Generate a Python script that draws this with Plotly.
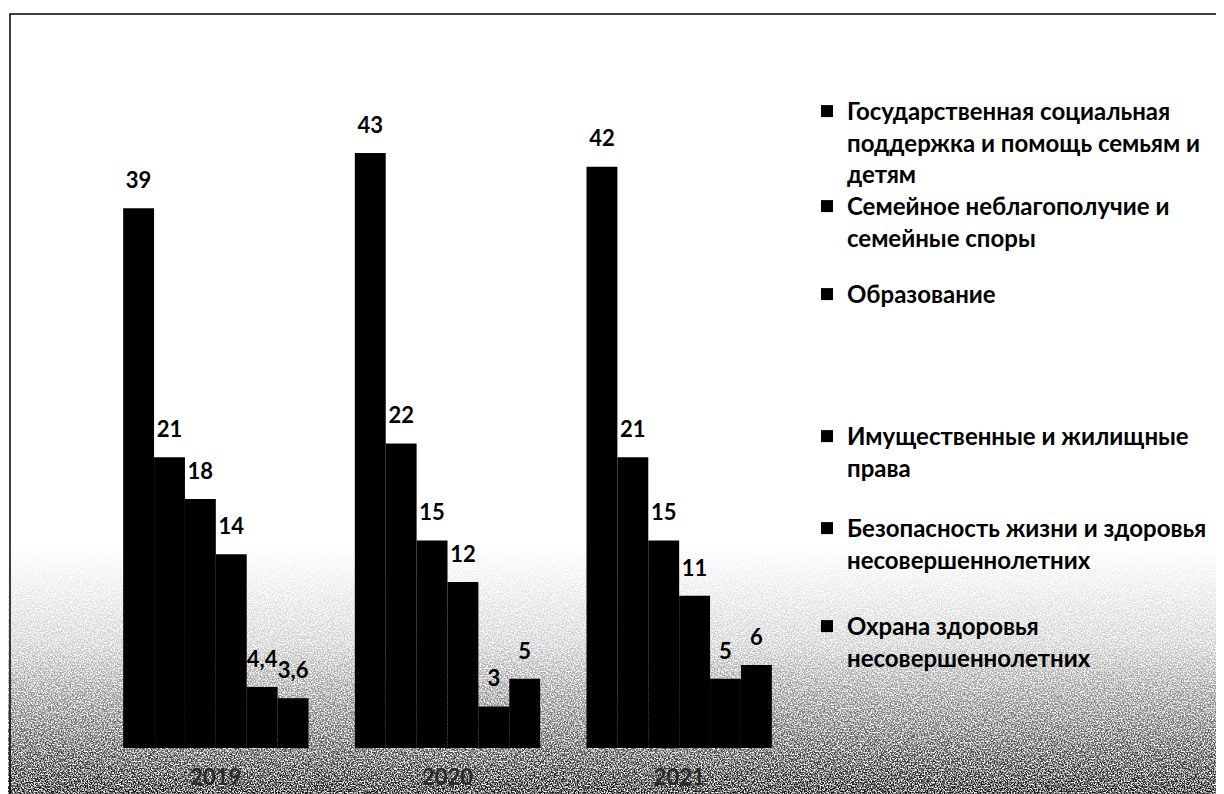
import base64
import plotly.graph_objects as go

years = ["2019", "2020", "2021"]
categories = [
    "Государственная социальная<br>поддержка и помощь семьям и<br>детям",
    "Семейное неблагополучие и<br>семейные споры",
    "Образование",
    "Имущественные и жилищные<br>права",
    "Безопасность жизни и здоровья<br>несовершеннолетних",
    "Охрана здоровья<br>несовершеннолетних",
]
# values per category, in year order
support = [39, 43, 42]
family = [21, 22, 21]
education = [18, 15, 15]
property_rights = [14, 12, 11]
safety = [4.4, 3, 5]
health = [3.6, 5, 6]
series = [support, family, education, property_rights, safety, health]

# page geometry (screen pixels; the page body adds an 8px offset)
W, H = 1224, 794
OFF = 8
ML, MR, MT, MB = 92, 437, 48, 54
PW, PH = W - ML - MR, H - MT - MB


def px_x(x):
    return (x - OFF - ML) / PW


def px_y(y):
    return (H - MB - (y - OFF)) / PH


FONT = "Lato"
GAP = 0.2

fig = go.Figure()
for i, (name, vals) in enumerate(zip(categories, series)):
    key = "legend" if i == 0 else f"legend{i + 1}"
    fig.add_trace(go.Bar(
        x=years, y=vals, name=name,
        marker=dict(color="#000000", line=dict(width=0)),
        offsetgroup=str(i), legend=key,
    ))

# value labels, grouped the same way as the bars
for i, vals in enumerate(series):
    fig.add_trace(go.Scatter(
        x=years, y=vals, mode="markers+text",
        text=vals, texttemplate="%{y}", textposition="top center",
        textfont=dict(family=FONT, size=22, color="#000000", weight="bold"),
        marker=dict(size=22, opacity=0),
        cliponaxis=False, showlegend=False, hoverinfo="skip",
        offsetgroup=str(i),
    ))

legend_tops = [89, 184, 272, 414, 506, 604]
legends = {}
for i, top in enumerate(legend_tops):
    key = "legend" if i == 0 else f"legend{i + 1}"
    legends[key] = dict(
        x=px_x(807), y=px_y(top), xanchor="left", yanchor="top",
        bgcolor="rgba(0,0,0,0)", valign="top",
        font=dict(family=FONT, size=24, color="#000000", weight="bold"),
        itemwidth=30,
    )

# grainy scan shading at the bottom of the page
noise_h = 250
svg = f'''<svg xmlns="http://www.w3.org/2000/svg" width="{W}" height="{noise_h}" viewBox="0 0 {W} {noise_h}">
<defs>
<filter id="n" x="0" y="0" width="100%" height="100%">
<feTurbulence type="fractalNoise" baseFrequency="0.7" numOctaves="2" seed="7"/>
<feColorMatrix type="matrix" values="0 0 0 0 0  0 0 0 0 0  0 0 0 0 0  3.0 0 0 0 -0.9"/>
</filter>
<linearGradient id="g" x1="0" y1="0" x2="0" y2="1">
<stop offset="0" stop-color="white" stop-opacity="0"/>
<stop offset="0.4" stop-color="white" stop-opacity="0.2"/>
<stop offset="0.75" stop-color="white" stop-opacity="0.6"/>
<stop offset="1" stop-color="white" stop-opacity="0.95"/>
</linearGradient>
<mask id="m"><rect width="{W}" height="{noise_h}" fill="url(#g)"/></mask>
</defs>
<rect width="{W}" height="{noise_h}" filter="url(#n)" mask="url(#m)"/>
</svg>'''
src = "data:image/svg+xml;base64," + base64.b64encode(svg.encode()).decode()

fig.update_layout(
    width=W, height=H,
    margin=dict(l=ML, r=MR, t=MT, b=MB),
    barmode="group", bargap=GAP, bargroupgap=0,
    scattermode="group", scattergap=GAP,
    showlegend=True,
    paper_bgcolor="#ffffff", plot_bgcolor="rgba(0,0,0,0)",
    separators=", ",
    font=dict(family=FONT, color="#000000"),
    xaxis=dict(showline=False, showgrid=False, ticks="", ticklabelstandoff=14,
               tickfont=dict(family=FONT, size=22, color="#2a2a2a", weight="bold")),
    yaxis=dict(range=[0, 50], visible=False),
    images=[dict(source=src, xref="paper", yref="paper",
                 x=px_x(0), y=px_y(H - noise_h), sizex=W / PW, sizey=noise_h / PH,
                 xanchor="left", yanchor="top", sizing="stretch", layer="below")],
    shapes=[dict(type="rect", xref="paper", yref="paper",
                 x0=px_x(10), x1=px_x(1217), y0=px_y(800), y1=px_y(14),
                 line=dict(color="#000000", width=1.5), layer="above")],
    **legends,
)

fig.write_html("out.html")
